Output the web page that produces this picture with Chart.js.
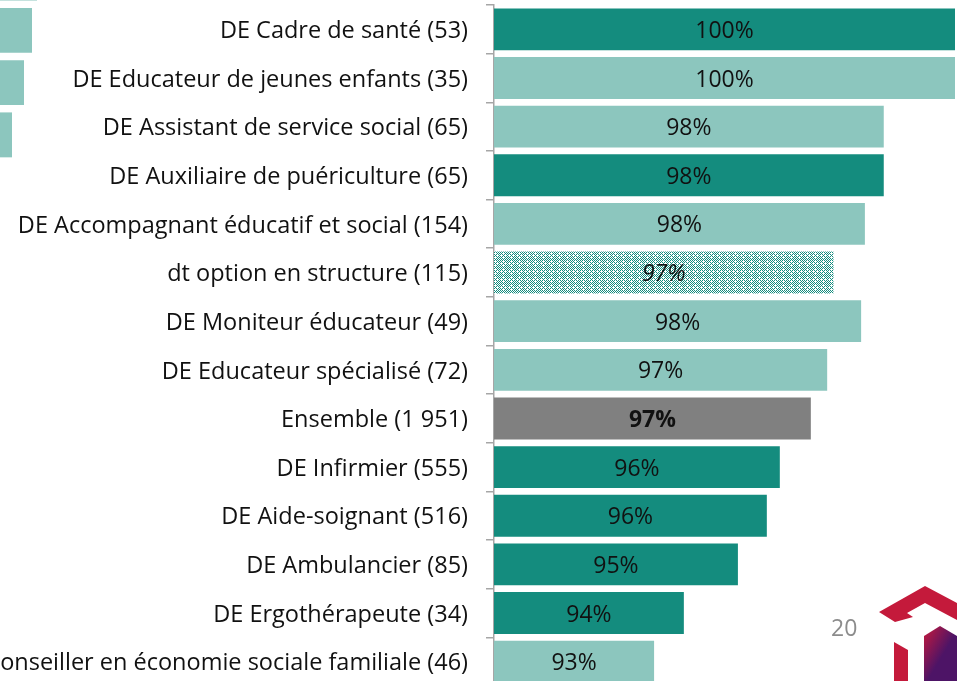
<!DOCTYPE html>
<html lang="fr">
<head>
<meta charset="utf-8">
<script src="https://cdn.jsdelivr.net/npm/chart.js@4.4.1/dist/chart.umd.min.js"></script>
<style>
  html, body { margin: 0; padding: 0; background: #fff; overflow: hidden; }
  #page { position: relative; width: 957px; height: 681px; overflow: hidden; }
  #wrapMain { position: absolute; left: 0; top: 0; width: 957px; height: 686px; }
  #wrapAutre { position: absolute; left: 0; top: -48px; width: 40px; height: 209px; }
  #numPage { position: absolute; left: 831px; top: 611px; font: 23px "Open Sans", sans-serif; color: #8c8c8c; }
  #logo { position: absolute; left: 870px; top: 580px; }
</style>
</head>
<body>
<div id="page">
  <div id="wrapAutre"><canvas id="autre"></canvas></div>
  <div id="wrapMain"><canvas id="chart"></canvas></div>
  <div id="numPage">20</div>
  <svg id="logo" width="87" height="101" viewBox="870 580 87 101">
    <defs>
      <linearGradient id="gradM" x1="0" y1="0" x2="1" y2="1">
        <stop offset="0" stop-color="#c8193c"/>
        <stop offset="0.55" stop-color="#4d1466"/>
      </linearGradient>
    </defs>
    <polygon fill="#c41a3b" points="879,612 925,586 957,603 957,620 925,603 907,613 913,617 895,622"/>
    <polygon fill="#c41a3b" points="894,642 908,650 908,681 894,681"/>
    <polygon fill="url(#gradM)" points="924,636 940,626 957,636 957,681 924,681"/>
  </svg>
</div>
<script>
// diplômes (effectifs)
const categories = [
  "DE Cadre de santé (53)",
  "DE Educateur de jeunes enfants (35)",
  "DE Assistant de service social (65)",
  "DE Auxiliaire de puériculture (65)",
  "DE Accompagnant éducatif et social (154)",
  "dt option en structure (115)",
  "DE Moniteur éducateur (49)",
  "DE Educateur spécialisé (72)",
  "Ensemble (1 951)",
  "DE Infirmier (555)",
  "DE Aide-soignant (516)",
  "DE Ambulancier (85)",
  "DE Ergothérapeute (34)",
  "Conseiller en économie sociale familiale (46)"
];
const valeurs = [100, 100, 98.3, 98.3, 97.85, 97.1, 97.76, 96.95, 96.56, 95.82, 95.51, 94.82, 93.53, 92.82];
const etiquettes = ["100%", "100%", "98%", "98%", "98%", "97%", "98%", "97%", "97%", "96%", "96%", "95%", "94%", "93%"];
// type de barre : f = foncé, c = clair, h = hachuré, e = ensemble
const types = ["f", "c", "c", "f", "c", "h", "c", "c", "e", "f", "f", "f", "f", "c"];

// graphique voisin coupé en haut à gauche
const autreCategories = ["a", "b", "c", "d"];
const autreValeurs = [37, 32, 24, 12];

const FONCE = "#148c7e";
const CLAIR = "#8cc6be";
const GRIS = "#808080";

function hachure() {
  const c = document.createElement("canvas");
  c.width = 8; c.height = 8;
  const x = c.getContext("2d");
  x.fillStyle = "#ffffff";
  x.fillRect(0, 0, 8, 8);
  x.fillStyle = FONCE;
  for (let i = 0; i < 8; i++) {
    for (let j = 0; j < 8; j++) {
      if ((i + j) % 2 === 0 && !(i === 7 && j % 4 === 1) && !(j === 7 && i % 4 === 1)) x.fillRect(i, j, 1, 1);
    }
  }
  return x.createPattern(c, "repeat");
}

const couleurs = types.map(t => t === "f" ? FONCE : t === "c" ? CLAIR : t === "e" ? GRIS : hachure());

// pourcentages au milieu des barres
const etiquettesPlugin = {
  id: "etiquettes",
  afterDraw(chart) {
    const ctx = chart.ctx;
    const meta = chart.getDatasetMeta(0);
    const xs = chart.scales.x;
    ctx.save();
    ctx.textAlign = "center";
    ctx.textBaseline = "middle";
    ctx.fillStyle = "#111";
    meta.data.forEach((bar, i) => {
      let style = "";
      if (types[i] === "h") style = "italic ";
      if (types[i] === "e") style = "bold ";
      ctx.font = style + "23px 'Open Sans', sans-serif";
      const milieu = (xs.getPixelForValue(valeurs[i]) + xs.left) / 2;
      ctx.fillText(etiquettes[i], milieu, bar.y + 2);
    });
    ctx.restore();
  }
};

new Chart(document.getElementById("chart"), {
  type: "bar",
  data: {
    labels: categories,
    datasets: [{
      data: valeurs,
      backgroundColor: couleurs,
      borderWidth: 0,
      barPercentage: 0.86,
      categoryPercentage: 1
    }]
  },
  options: {
    indexAxis: "y",
    responsive: true,
    maintainAspectRatio: false,
    animation: false,
    layout: { padding: { top: 5, right: 2, left: 0, bottom: 0 } },
    plugins: { legend: { display: false }, tooltip: { enabled: false } },
    scales: {
      x: { display: false, min: 89, max: 100 },
      y: {
        afterFit(scale) { scale.width = 494; scale.paddingTop = 0; scale.paddingBottom = 0; },
        border: { display: true, color: "#a6a6a6", width: 1.5 },
        grid: { drawOnChartArea: false, drawTicks: true, tickLength: 8, color: "#a6a6a6", lineWidth: 1.5, offset: true },
        ticks: { padding: 18, labelOffset: 2, color: "#111", font: { family: "'Open Sans'", size: 23.5 }, autoSkip: false }
      }
    }
  },
  plugins: [etiquettesPlugin]
});

new Chart(document.getElementById("autre"), {
  type: "bar",
  data: {
    labels: autreCategories,
    datasets: [{ data: autreValeurs, backgroundColor: CLAIR, borderWidth: 0, barPercentage: 0.86, categoryPercentage: 1 }]
  },
  options: {
    indexAxis: "y",
    responsive: true,
    maintainAspectRatio: false,
    animation: false,
    layout: { padding: 0 },
    plugins: { legend: { display: false }, tooltip: { enabled: false } },
    scales: {
      x: { display: false, min: 0, max: 40 },
      y: { display: false }
    }
  }
});
</script>
</body>
</html>
